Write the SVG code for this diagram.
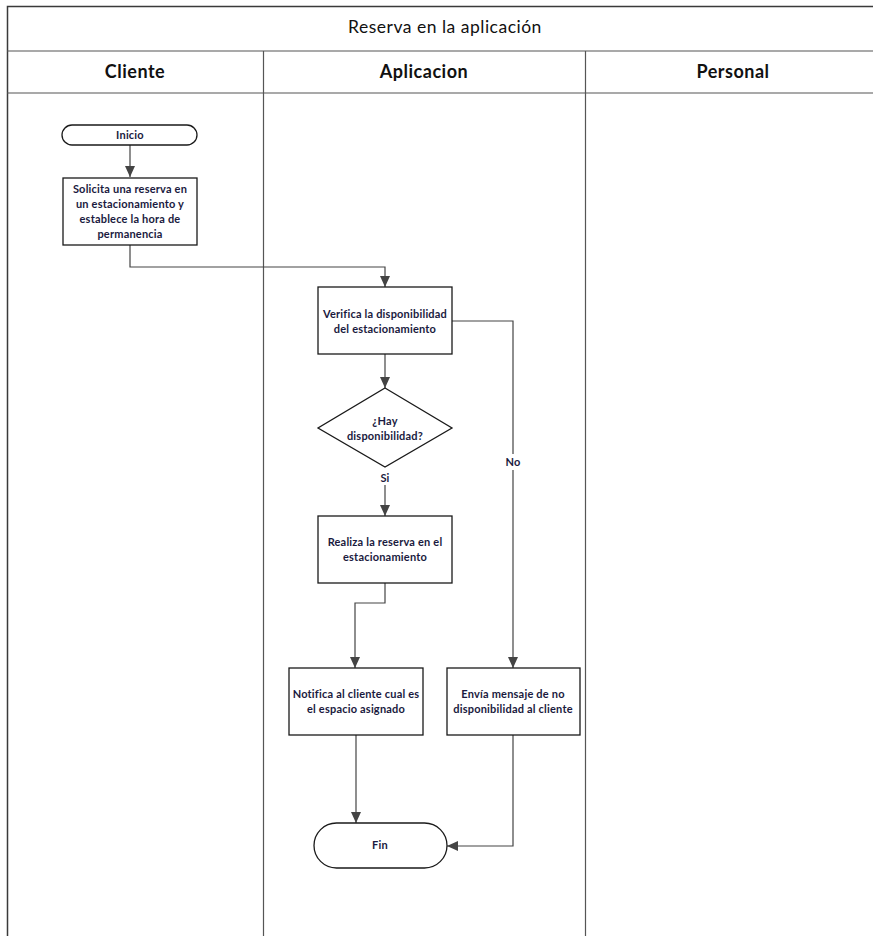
<svg xmlns="http://www.w3.org/2000/svg" width="873" height="936" viewBox="0 0 873 936">
  <style>
    .frame { fill: none; stroke: #3a3a3a; stroke-width: 1.5; }
    .lane { stroke: #555; stroke-width: 1.2; fill: none; }
    .box { fill: #fff; stroke: #1a1a1a; stroke-width: 1.3; }
    .conn { fill: none; stroke: #444; stroke-width: 1.2; }
    .t { font-family: Lato, "Open Sans", "Liberation Sans", sans-serif; font-size: 11px; letter-spacing: 0.2px; font-weight: bold; fill: #1a1a40; text-anchor: middle; }
    .h { font-family: Lato, "Open Sans", "Liberation Sans", sans-serif; font-size: 18px; letter-spacing: 0.5px; font-weight: bold; fill: #111; text-anchor: middle; }
    .title { font-family: Lato, "Open Sans", "Liberation Sans", sans-serif; font-size: 17.5px; letter-spacing: 0.5px; fill: #111; text-anchor: middle; }
  </style>
  <defs>
    <marker id="arrow" markerWidth="12" markerHeight="10" refX="11" refY="5" orient="auto" markerUnits="userSpaceOnUse">
      <path d="M0,0 L11,5 L0,10 Z" fill="#444"/>
    </marker>
  </defs>
  <rect width="873" height="936" fill="#fff"/>

  <!-- swimlane frame -->
  <g id="pool">
    <path class="frame" d="M880,6.5 H7.5 V936"/>
    <line class="lane" x1="7" y1="51" x2="880" y2="51" stroke-width="2"/>
    <line class="lane" x1="7" y1="93" x2="880" y2="93" stroke-width="1.6"/>
    <line class="lane" x1="263.5" y1="51" x2="263.5" y2="936"/>
    <line class="lane" x1="585.5" y1="51" x2="585.5" y2="936"/>
    <text class="title" x="445" y="33">Reserva en la aplicación</text>
    <text class="h" x="135" y="78">Cliente</text>
    <text class="h" x="424" y="78">Aplicacion</text>
    <text class="h" x="733" y="78">Personal</text>
  </g>

  <!-- connectors -->
  <g id="connectors">
    <path class="conn" d="M130,145 V177" marker-end="url(#arrow)"/>
    <path class="conn" d="M130,245 V267 H385 V287" marker-end="url(#arrow)"/>
    <path class="conn" d="M385,354 V388" marker-end="url(#arrow)"/>
    <path class="conn" d="M385,485 V516" marker-end="url(#arrow)"/>
    <path class="conn" d="M385,583 V603 H355 V668" marker-end="url(#arrow)"/>
    <path class="conn" d="M452,321 H513 V454"/>
    <path class="conn" d="M513,470 V668" marker-end="url(#arrow)"/>
    <path class="conn" d="M356,735 V823" marker-end="url(#arrow)"/>
    <path class="conn" d="M513,735 V846 H447" marker-end="url(#arrow)"/>
    <text class="t" x="385" y="482">Si</text>
    <text class="t" x="513" y="466">No</text>
  </g>

  <g id="inicio">
    <rect class="box" x="62" y="125" width="135" height="20" rx="10" ry="10"/>
    <text class="t" x="130" y="139">Inicio</text>
  </g>

  <g id="solicita">
    <rect class="box" x="63" y="178" width="134" height="67"/>
    <text class="t" x="130" y="193">Solicita una reserva en</text>
    <text class="t" x="130" y="208">un estacionamiento y</text>
    <text class="t" x="130" y="223">establece la hora de</text>
    <text class="t" x="130" y="238">permanencia</text>
  </g>

  <g id="verifica">
    <rect class="box" x="318" y="287" width="134" height="67"/>
    <text class="t" x="385" y="318">Verifica la disponibilidad</text>
    <text class="t" x="385" y="333">del estacionamiento</text>
  </g>

  <g id="decision">
    <polygon class="box" points="385,388 452,428 385,467 318,428"/>
    <text class="t" x="385" y="425">¿Hay</text>
    <text class="t" x="385" y="440">disponibilidad?</text>
  </g>

  <g id="realiza">
    <rect class="box" x="318" y="516" width="134" height="67"/>
    <text class="t" x="385" y="546">Realiza la reserva en el</text>
    <text class="t" x="385" y="561">estacionamiento</text>
  </g>

  <g id="notifica">
    <rect class="box" x="289" y="668" width="134" height="67"/>
    <text class="t" x="356" y="698">Notifica al cliente cual es</text>
    <text class="t" x="356" y="713">el espacio asignado</text>
  </g>

  <g id="envia">
    <rect class="box" x="447" y="668" width="133" height="67"/>
    <text class="t" x="513" y="698">Envía mensaje de no</text>
    <text class="t" x="513" y="713">disponibilidad al cliente</text>
  </g>

  <g id="fin">
    <rect class="box" x="314" y="823" width="133" height="45" rx="22.5" ry="22.5"/>
    <text class="t" x="380" y="849">Fin</text>
  </g>
</svg>
